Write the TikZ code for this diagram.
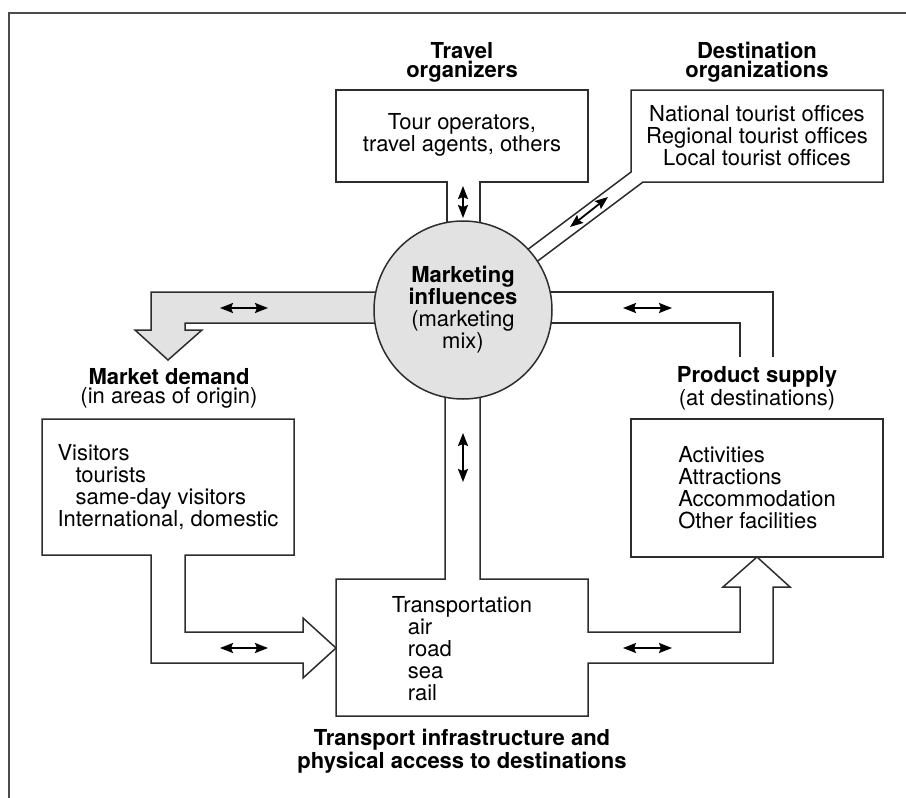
\documentclass[tikz,border=0pt]{standalone}
\usepackage{fontspec}
\setmainfont{TeX Gyre Heros}
\usetikzlibrary{arrows.meta}
\definecolor{linegray}{RGB}{45,45,45}
\definecolor{mixgray}{RGB}{226,226,226}

\begin{document}
\begin{tikzpicture}[
    x=0.5pt, y=-0.5pt,
    outline/.style={draw=linegray, line width=0.75pt},
    flow/.style={<->, draw=black, line width=0.9pt},
    head/.style={font=\fontsize{11}{9.5}\selectfont\bfseries, align=center},
    body/.style={font=\fontsize{11}{11}\selectfont, align=center},
    listing/.style={font=\fontsize{11}{11}\selectfont, align=left},
    >={Stealth[length=6.5pt, width=5pt, inset=1pt]}
]
\useasboundingbox (0,0) rectangle (906,798);

% frame
\draw[draw=black!70, line width=1pt] (9,798) -- (9,13) -- (906,13);

% travel organizers box and its stem
\draw[outline] (447,308) -- (447,182) -- (336,182) -- (336,90) -- (588,90)
    -- (588,182) -- (480,182) -- (480,308);
% destination box and the slanted stem
\draw[outline] (503,268) -- (631,172) -- (631,90) -- (883,90) -- (883,182)
    -- (643,182) -- (515,278);
% shaded channel down to market demand
\draw[outline, fill=mixgray] (463,292) -- (151,292) -- (151,330) -- (135,330)
    -- (168,360) -- (202,330) -- (185,330) -- (185,323) -- (463,323) -- cycle;
% channel over to product supply
\draw[outline] (463,292) -- (773,292) -- (773,357);
\draw[outline] (463,323) -- (740,323) -- (740,357);
% market demand box, arrow into transport
\draw[outline] (185,555) -- (294,555) -- (294,419) -- (42,419) -- (42,555)
    -- (151,555) -- (151,663) -- (303,663) -- (303,678) -- (336,648)
    -- (303,618) -- (303,632) -- (185,632) -- cycle;
% transport box, stem up to the centre, arrow up to supply
\draw[outline] (445,308) -- (445,579) -- (336,579) -- (336,716) -- (588,716)
    -- (588,663) -- (773,663) -- (773,587) -- (790,587) -- (757,557)
    -- (723,587) -- (740,587) -- (740,632) -- (588,632) -- (588,579)
    -- (480,579) -- (480,308);

% centre
\node[circle, outline, fill=mixgray, minimum size=89pt, inner sep=0pt,
      font=\fontsize{11}{11}\selectfont, align=center] (mix) at (463,310)
    {\textbf{Marketing}\\\textbf{influences}\\(marketing\\mix)};

% boxes
\node[body] (organizers) at (462,135) {Tour operators,\\travel agents, others};
\node[body] (destorgs) at (757,136) {National tourist offices\\Regional tourist offices\\Local tourist offices};
\node[listing] (demand) at (168,487) {Visitors\\\hspace*{9pt}tourists\\\hspace*{9pt}same-day visitors\\International, domestic};
\node[outline, minimum width=126pt, minimum height=69pt] (supplybox) at (757,488) {};
\node[listing] (supply) at (supplybox) {Activities\\Attractions\\Accommodation\\Other facilities};
\node[listing] (transport) at (462,649) {Transportation\\\hspace*{8pt}air\\\hspace*{8pt}road\\\hspace*{8pt}sea\\\hspace*{8pt}rail};

% headings
\node[head] (orgTitle) at (462,62) {Travel\\organizers};
\node[head] (destTitle) at (757,62) {Destination\\organizations};
\node[head] (demandTitle) at (169,388) {Market demand\\\mdseries(in areas of origin)};
\node[head] (supplyTitle) at (757,388) {Product supply\\\mdseries(at destinations)};
\node[head] (accessTitle) at (462,751) {Transport infrastructure and\\physical access to destinations};

% two-way flows
\foreach \a/\b in {{463,186}/{463,218}, {570,227}/{608,197}, {220,308}/{268,308},
                   {623,308}/{672,308}, {463,433}/{463,482}, {220,648}/{268,648},
                   {623,648}/{672,648}}
    \draw[flow] (\a) -- (\b);
\end{tikzpicture}
\end{document}
